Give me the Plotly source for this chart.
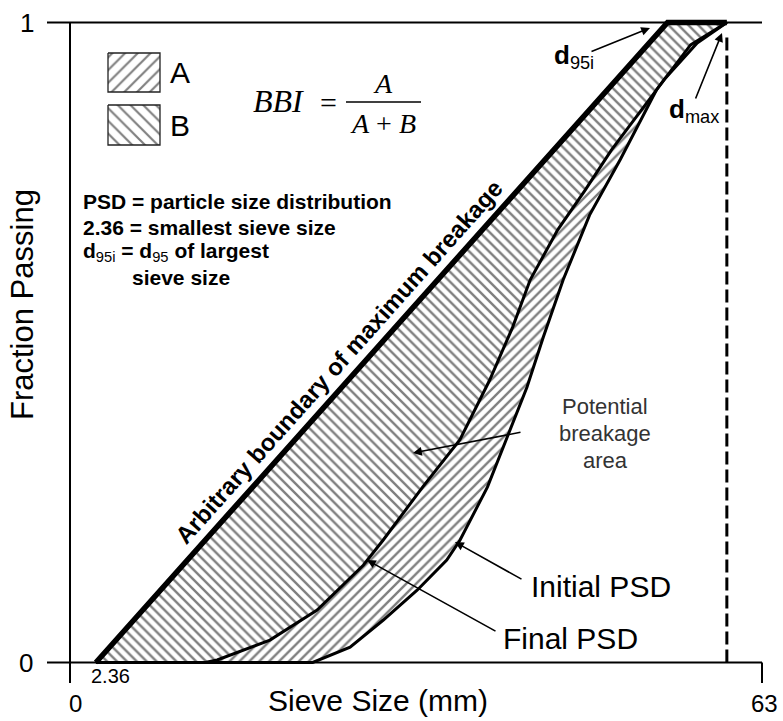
import plotly.graph_objects as go

# ---- data: sieve size (mm) vs fraction passing ----
boundary_size = [2.36, 54.4, 59.8]
boundary_pass = [0.0, 1.0, 1.0]

final_size = [2.36, 12.3, 13.4, 18.2, 22.5, 26.7, 28.5, 32.1, 35.5, 38.2, 40.3,
              41.9, 44.4, 46.9, 49.3, 51.9, 54.2, 57.1, 59.8]
final_pass = [0.0, 0.0, 0.004, 0.035, 0.082, 0.152, 0.191, 0.274, 0.348, 0.441, 0.524,
              0.598, 0.676, 0.738, 0.801, 0.860, 0.913, 0.968, 1.0]

initial_size = [2.36, 22.1, 25.5, 28.5, 31.6, 34.3, 35.5, 38.0, 39.8, 41.6, 43.1,
                44.9, 47.3, 50.1, 53.4, 56.5, 59.8]
initial_pass = [0.0, 0.0, 0.024, 0.066, 0.113, 0.160, 0.191, 0.274, 0.352, 0.430, 0.509,
                0.598, 0.699, 0.786, 0.895, 0.965, 1.0]

d_max = 59.8
smallest_sieve = 2.36
x_ticks = [0, 63]
y_ticks = [0, 1]

# ---- page geometry ----
W, H = 783, 721
X0_PX, X1_PX = 70.0, 762.0      # pixel columns of x = 0 and x = 63
Y0_PX, Y1_PX = 662.5, 22.5      # pixel rows of y = 0 and y = 1
KX = (X1_PX - X0_PX) / (x_ticks[1] - x_ticks[0])
KY = (Y0_PX - Y1_PX) / (y_ticks[1] - y_ticks[0])


def px(xp):
    return x_ticks[0] + (xp - X0_PX) / KX


def py(yp):
    return y_ticks[0] + (Y0_PX - yp) / KY


SANS = "Liberation Sans, Arial, sans-serif"
SERIF = "Liberation Serif, Times New Roman, serif"

fig = go.Figure()

# area B: between the maximum-breakage boundary and the final PSD
fig.add_trace(go.Scatter(
    x=boundary_size + final_size[::-1],
    y=boundary_pass + final_pass[::-1],
    mode="lines", line=dict(width=0), fill="toself", fillcolor="white",
    fillpattern=dict(shape="\\", size=7, solidity=0.34, fgcolor="black", bgcolor="white"),
    hoverinfo="skip", showlegend=False))

# area A: between the final and the initial PSD
fig.add_trace(go.Scatter(
    x=final_size + initial_size[::-1],
    y=final_pass + initial_pass[::-1],
    mode="lines", line=dict(width=0), fill="toself", fillcolor="white",
    fillpattern=dict(shape="/", size=7, solidity=0.34, fgcolor="black", bgcolor="white"),
    hoverinfo="skip", showlegend=False))

# PSD curves
fig.add_trace(go.Scatter(x=final_size, y=final_pass, mode="lines",
                         line=dict(color="black", width=3), hoverinfo="skip", showlegend=False))
fig.add_trace(go.Scatter(x=initial_size, y=initial_pass, mode="lines",
                         line=dict(color="black", width=3), hoverinfo="skip", showlegend=False))
# arbitrary boundary of maximum breakage
fig.add_trace(go.Scatter(x=boundary_size, y=boundary_pass, mode="lines",
                         line=dict(color="black", width=5.5), hoverinfo="skip", showlegend=False))

# key swatches for A and B
for (top, bottom), shape in [((53, 92), "/"), ((105, 145), "\\")]:
    l, r = px(108), px(160)
    t, b = py(top), py(bottom)
    fig.add_trace(go.Scatter(
        x=[l, r, r, l, l], y=[t, t, b, b, t], mode="lines",
        line=dict(color="#222222", width=1.3), fill="toself", fillcolor="white",
        fillpattern=dict(shape=shape, size=9, solidity=0.24, fgcolor="black", bgcolor="white"),
        hoverinfo="skip", showlegend=False))

shapes = []


def hline(y, x0, x1, width=2, dash=None):
    shapes.append(dict(type="line", xref="x", yref="y", x0=x0, x1=x1, y0=y, y1=y,
                       line=dict(color="black", width=width, dash=dash)))


def vline(x, y0, y1, width=2, dash=None):
    shapes.append(dict(type="line", xref="x", yref="y", x0=x, x1=x, y0=y0, y1=y1,
                       line=dict(color="black", width=width, dash=dash)))


# frame lines
hline(y_ticks[1], px(47), x_ticks[1])
hline(y_ticks[0], px(47), x_ticks[1])
vline(x_ticks[0], py(683), y_ticks[1])
vline(x_ticks[1], py(683), y_ticks[0])
# d_max marker
vline(d_max, y_ticks[0], py(33), width=3, dash="13px,5px")
# fraction bar of the BBI formula
shapes.append(dict(type="line", xref="x", yref="y", x0=px(346), x1=px(421),
                   y0=py(102), y1=py(102), line=dict(color="black", width=1.5)))

annotations = []


def label(xp, yp, s, size, xanchor="center", color="black", angle=0, family=SANS):
    annotations.append(dict(x=px(xp), y=py(yp), xref="x", yref="y", text=s,
                            showarrow=False, xanchor=xanchor, yanchor="middle",
                            textangle=angle, borderpad=0,
                            font=dict(family=family, size=size, color=color)))


def arrow(x_tail, y_tail, x_head, y_head):
    annotations.append(dict(x=px(x_head), y=py(y_head), ax=px(x_tail), ay=py(y_tail),
                            xref="x", yref="y", axref="x", ayref="y", text="",
                            showarrow=True, arrowhead=2, arrowsize=1.1, arrowwidth=1.6,
                            arrowcolor="black", standoff=0))


# tick labels
label(27, 23, str(y_ticks[1]), 26)
label(26, 663, str(y_ticks[0]), 26)
label(75, 703, str(x_ticks[0]), 24)
label(764, 703, str(x_ticks[1]), 24)
label(110, 676, f"{smallest_sieve:.2f}", 20)

# axis titles
label(378, 700, "Sieve Size (mm)", 30)
label(22, 305, "Fraction Passing", 31, angle=-90)

# key
label(180, 72, "A", 30, xanchor="center")
label(180, 125, "B", 30, xanchor="center")

# BBI formula
label(278, 101, "<i>BBI</i>", 32, family=SERIF)
label(328, 102, "=", 30, family=SERIF)
label(383, 83, "<i>A</i>", 28, family=SERIF)
label(383, 123, "<i>A</i> + <i>B</i>", 28, family=SERIF)

# notes
label(82, 201, "<b>PSD = particle size distribution</b>", 21, xanchor="left")
label(82, 227, "<b>2.36 = smallest sieve size</b>", 21, xanchor="left")
label(82, 252, "<b>d</b><sub>95i</sub><b> = d</b><sub>95</sub><b> of largest</b>", 21, xanchor="left")
label(131, 277, "<b>sieve size</b>", 21, xanchor="left")

# boundary caption
label(338, 362, "<b>Arbitrary boundary of maximum breakage</b>", 24, angle=-48.26)

# point labels
label(553, 56, "<b>d</b><sub>95i</sub>", 26, xanchor="left")
label(668, 110, "<b>d</b><sub>max</sub>", 26, xanchor="left")
arrow(590, 52, 650, 28)
arrow(695, 100, 722, 33)

label(605, 406, "Potential", 22, color="#333333")
label(605, 433, "breakage", 22, color="#333333")
label(605, 460, "area", 22, color="#333333")
arrow(522, 432, 413, 453)

label(530, 586, "Initial PSD", 30, xanchor="left")
arrow(523, 580, 455, 542)
label(502, 638, "Final PSD", 30, xanchor="left")
arrow(497, 632, 367, 560)

fig.update_layout(
    width=W, height=H,
    margin=dict(l=0, r=0, t=0, b=0),
    paper_bgcolor="white", plot_bgcolor="white",
    xaxis=dict(range=[px(0), px(W)], visible=False, fixedrange=True),
    yaxis=dict(range=[py(H), py(0)], visible=False, fixedrange=True),
    shapes=shapes, annotations=annotations,
    showlegend=False,
)

fig.write_html("out.html")
